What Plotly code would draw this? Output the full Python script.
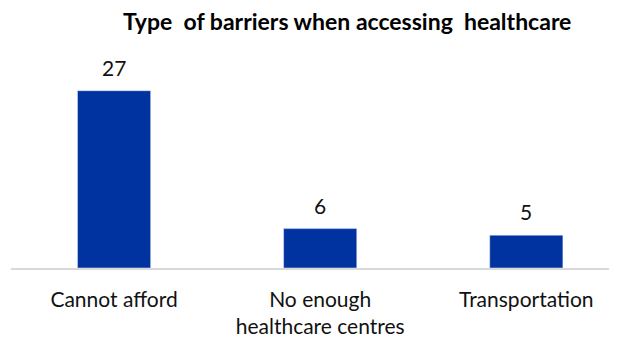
import plotly.graph_objects as go

categories = ["Cannot afford", "No enough<br>healthcare centres", "Transportation"]
counts = [27, 6, 5]

fig = go.Figure()
fig.add_trace(
    go.Bar(
        x=categories,
        y=counts,
        width=0.355,
        marker=dict(color="#0033a0"),
        hoverinfo="x+y",
    )
)

# value labels above the bars
for cat, val in zip(categories, counts):
    fig.add_annotation(
        x=cat,
        y=val,
        text=str(val),
        showarrow=False,
        yanchor="bottom",
        yshift=9,
        font=dict(family="Lato", size=21, color="#111111"),
    )

fig.update_layout(
    width=609,
    height=332,
    margin=dict(l=3, r=0, t=63, b=72),
    plot_bgcolor="white",
    paper_bgcolor="white",
    showlegend=False,
    title=dict(
        text="<b>Type  of barriers when accessing  healthcare</b>",
        x=0.557,
        xanchor="center",
        y=0.958,
        yanchor="middle",
        font=dict(family="Lato", size=23, color="#000000"),
    ),
    font=dict(family="Lato"),
)
fig.update_xaxes(
    range=[-0.5, 2.44],
    showline=True,
    linecolor="#d9d9d9",
    linewidth=1.5,
    ticks="outside",
    ticklen=12,
    tickcolor="rgba(0,0,0,0)",
    tickfont=dict(family="Lato", size=21, color="#111111"),
    automargin=False,
)
fig.update_yaxes(range=[0, 30], visible=False, automargin=False)

fig.write_html("out.html")
